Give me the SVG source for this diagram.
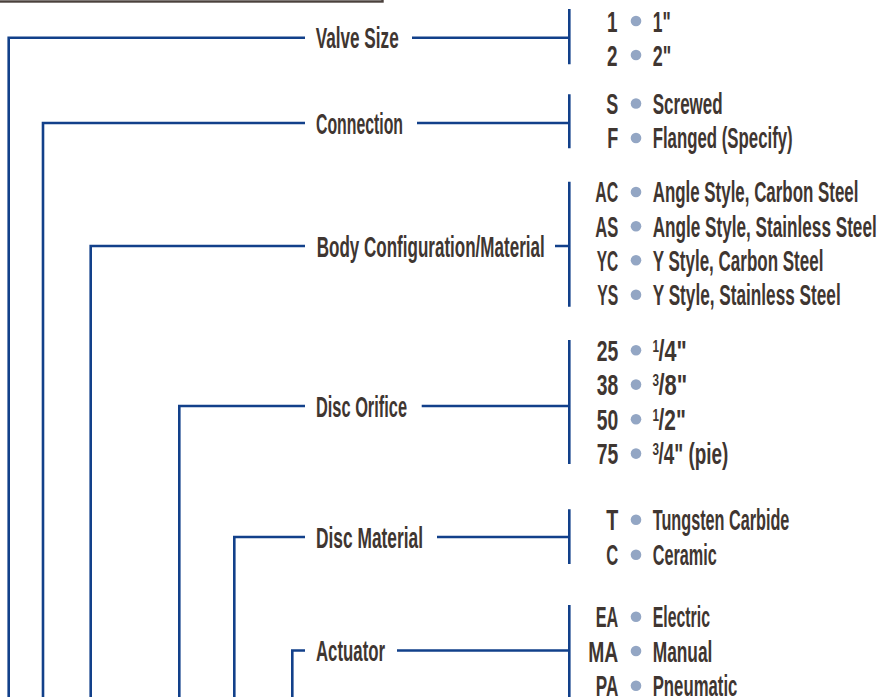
<svg xmlns="http://www.w3.org/2000/svg" width="894" height="697" viewBox="0 0 894 697">
<style>
.t{font-family:"Liberation Sans",Arial,sans-serif;font-size:29px;font-weight:bold;fill:#3f3631}
.s{font-size:16.5px}
.c{text-anchor:end}
.dot{fill:#93a6c4}
.ln{fill:none;stroke:#12408a;stroke-width:2.6;stroke-linejoin:miter;stroke-linecap:butt}
.box{fill:none;stroke:#4a413c;stroke-width:2.4}
</style>
<rect width="894" height="697" fill="#ffffff"/>
<rect class="box" x="-5" y="-20" width="387.5" height="21.5"/>

<g id="connectors">
  <path class="ln" d="M305,37.7 H8.7 V697 M412,37.7 H569.3 M569.3,9 V64.3"/>
  <path class="ln" d="M305,123 H43 V697 M417,123 H569.3 M569.3,94.3 V148.3"/>
  <path class="ln" d="M305,246 H90.7 V697 M555,246 H569.3 M569.3,181.7 V306.7"/>
  <path class="ln" d="M305,406 H179.3 V697 M421.7,406 H569.3 M569.3,340 V464"/>
  <path class="ln" d="M305,537 H234.3 V697 M437,537 H569.3 M569.3,509.3 V564"/>
  <path class="ln" d="M305,650.5 H292.3 V697 M397,650.5 H569.3 M569.3,605 V697"/>
</g>

<g id="valve-size">
  <text class="t" x="315.7" y="48" textLength="83" lengthAdjust="spacingAndGlyphs">Valve Size</text>
  <text class="t c" x="617.5" y="31.5" textLength="10.5" lengthAdjust="spacingAndGlyphs">1</text>
  <circle class="dot" cx="636" cy="21" r="5.3"/>
  <text class="t" x="652.7" y="31.5" textLength="18" lengthAdjust="spacingAndGlyphs">1&quot;</text>
  <text class="t c" x="617.5" y="65.5" textLength="10.5" lengthAdjust="spacingAndGlyphs">2</text>
  <circle class="dot" cx="636" cy="55" r="5.3"/>
  <text class="t" x="652.7" y="65.5" textLength="18.5" lengthAdjust="spacingAndGlyphs">2&quot;</text>
</g>

<g id="connection">
  <text class="t" x="316" y="133.5" textLength="87" lengthAdjust="spacingAndGlyphs">Connection</text>
  <text class="t c" x="618.3" y="113.5" textLength="12" lengthAdjust="spacingAndGlyphs">S</text>
  <circle class="dot" cx="636" cy="103.5" r="5.3"/>
  <text class="t" x="652.7" y="113.5" textLength="70" lengthAdjust="spacingAndGlyphs">Screwed</text>
  <text class="t c" x="618.3" y="148.3" textLength="11" lengthAdjust="spacingAndGlyphs">F</text>
  <circle class="dot" cx="636" cy="138" r="5.3"/>
  <text class="t" x="652.7" y="148.3" textLength="140" lengthAdjust="spacingAndGlyphs">Flanged (Specify)</text>
</g>

<g id="body-configuration">
  <text class="t" x="316.7" y="256.5" textLength="228" lengthAdjust="spacingAndGlyphs">Body Configuration/Material</text>
  <text class="t c" x="618.3" y="202.3" textLength="23" lengthAdjust="spacingAndGlyphs">AC</text>
  <circle class="dot" cx="636" cy="192" r="5.3"/>
  <text class="t" x="652.7" y="202.3" textLength="205.7" lengthAdjust="spacingAndGlyphs">Angle Style, Carbon Steel</text>
  <text class="t c" x="618.3" y="236.7" textLength="23" lengthAdjust="spacingAndGlyphs">AS</text>
  <circle class="dot" cx="636" cy="226.3" r="5.3"/>
  <text class="t" x="652.7" y="236.7" textLength="224" lengthAdjust="spacingAndGlyphs">Angle Style, Stainless Steel</text>
  <text class="t c" x="618.3" y="270.7" textLength="21.5" lengthAdjust="spacingAndGlyphs">YC</text>
  <circle class="dot" cx="636" cy="260.3" r="5.3"/>
  <text class="t" x="652.7" y="270.7" textLength="170.7" lengthAdjust="spacingAndGlyphs">Y Style, Carbon Steel</text>
  <text class="t c" x="618.3" y="305" textLength="21" lengthAdjust="spacingAndGlyphs">YS</text>
  <circle class="dot" cx="636" cy="294.7" r="5.3"/>
  <text class="t" x="652.7" y="305" textLength="188" lengthAdjust="spacingAndGlyphs">Y Style, Stainless Steel</text>
</g>

<g id="disc-orifice">
  <text class="t" x="316" y="416.5" textLength="91" lengthAdjust="spacingAndGlyphs">Disc Orifice</text>
  <text class="t c" x="618.3" y="360.7" textLength="21.5" lengthAdjust="spacingAndGlyphs">25</text>
  <circle class="dot" cx="636" cy="350.3" r="5.3"/>
  <text class="t s" x="652.5" y="351.8" textLength="6.5" lengthAdjust="spacingAndGlyphs">1</text>
  <text class="t" x="658.5" y="360.7" textLength="28.2" lengthAdjust="spacingAndGlyphs">/4&quot;</text>
  <text class="t c" x="618.3" y="395" textLength="21.5" lengthAdjust="spacingAndGlyphs">38</text>
  <circle class="dot" cx="636" cy="384.6" r="5.3"/>
  <text class="t s" x="652.5" y="386.1" textLength="6.5" lengthAdjust="spacingAndGlyphs">3</text>
  <text class="t" x="658.5" y="395" textLength="28.8" lengthAdjust="spacingAndGlyphs">/8&quot;</text>
  <text class="t c" x="618.3" y="429.7" textLength="21.5" lengthAdjust="spacingAndGlyphs">50</text>
  <circle class="dot" cx="636" cy="419.3" r="5.3"/>
  <text class="t s" x="652.5" y="420.8" textLength="6.5" lengthAdjust="spacingAndGlyphs">1</text>
  <text class="t" x="658.5" y="429.7" textLength="27.3" lengthAdjust="spacingAndGlyphs">/2&quot;</text>
  <text class="t c" x="618.3" y="464" textLength="21.5" lengthAdjust="spacingAndGlyphs">75</text>
  <circle class="dot" cx="636" cy="453.6" r="5.3"/>
  <text class="t s" x="652.5" y="455.1" textLength="6.5" lengthAdjust="spacingAndGlyphs">3</text>
  <text class="t" x="658.5" y="464" textLength="69.8" lengthAdjust="spacingAndGlyphs">/4&quot; (pie)</text>
</g>

<g id="disc-material">
  <text class="t" x="316" y="547.5" textLength="107" lengthAdjust="spacingAndGlyphs">Disc Material</text>
  <text class="t c" x="618.3" y="530" textLength="12" lengthAdjust="spacingAndGlyphs">T</text>
  <circle class="dot" cx="636" cy="519.7" r="5.3"/>
  <text class="t" x="652.7" y="530" textLength="136.7" lengthAdjust="spacingAndGlyphs">Tungsten Carbide</text>
  <text class="t c" x="618.3" y="565" textLength="12" lengthAdjust="spacingAndGlyphs">C</text>
  <circle class="dot" cx="636" cy="554.7" r="5.3"/>
  <text class="t" x="652.7" y="565" textLength="64" lengthAdjust="spacingAndGlyphs">Ceramic</text>
</g>

<g id="actuator">
  <text class="t" x="316" y="661" textLength="69" lengthAdjust="spacingAndGlyphs">Actuator</text>
  <text class="t c" x="618.3" y="627" textLength="22.5" lengthAdjust="spacingAndGlyphs">EA</text>
  <circle class="dot" cx="636" cy="616.7" r="5.3"/>
  <text class="t" x="652.7" y="627" textLength="57.3" lengthAdjust="spacingAndGlyphs">Electric</text>
  <text class="t c" x="618.3" y="661.5" textLength="30" lengthAdjust="spacingAndGlyphs">MA</text>
  <circle class="dot" cx="636" cy="651" r="5.3"/>
  <text class="t" x="652.7" y="661.5" textLength="59.7" lengthAdjust="spacingAndGlyphs">Manual</text>
  <text class="t c" x="618.3" y="696" textLength="22.5" lengthAdjust="spacingAndGlyphs">PA</text>
  <circle class="dot" cx="636" cy="685.7" r="5.3"/>
  <text class="t" x="652.7" y="696" textLength="84.7" lengthAdjust="spacingAndGlyphs">Pneumatic</text>
</g>
</svg>
